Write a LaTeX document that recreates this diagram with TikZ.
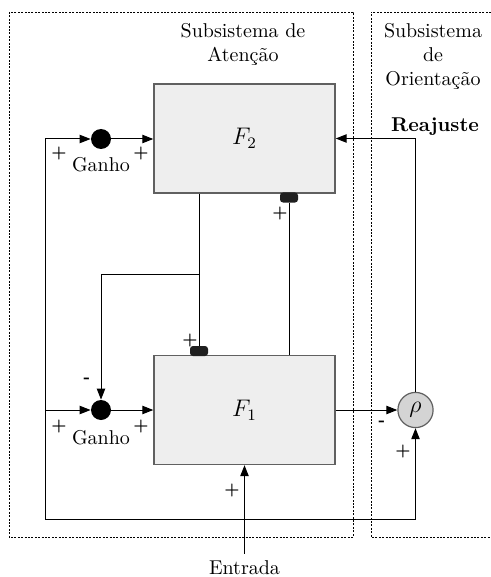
\documentclass[tikz,border=0pt]{standalone}
\usepackage{tikz}
\usetikzlibrary{arrows.meta,positioning,calc}
\definecolor{asBoxFill}{RGB}{238,238,238}
\definecolor{asBoxLine}{RGB}{ 96, 96, 96}
\definecolor{asRhoFill}{RGB}{212,212,212}

\begin{document}
\begin{tikzpicture}[x=0.5pt,y=-0.5pt,
  every node/.style={font=\normalsize},
  >={Triangle[length=5.5pt,width=4.2pt]},
  layer/.style={draw=asBoxLine,fill=asBoxFill,line width=0.7pt,
                minimum width=90.5pt,minimum height=54.5pt,inner sep=0pt,
                font=\large},
  gain/.style={circle,fill=black,minimum size=10pt,inner sep=0pt},
  vigil/.style={circle,draw=asBoxLine,fill=asRhoFill,line width=0.6pt,
                minimum size=17.6pt,inner sep=0pt,font=\large},
  tab/.style={fill=black!88,rounded corners=1.5pt,minimum width=9pt,
              minimum height=5pt,inner sep=0pt},
  sign/.style={font=\footnotesize\bfseries,inner sep=0pt},
  subsys/.style={line width=0.4pt,dash pattern=on 1pt off 0.7pt},
  wire/.style={line width=0.5pt}
]
\useasboundingbox (0,0) rectangle (491,577);

% subsystems
\draw[subsys] (9,12) rectangle (353,537);
\draw[subsys] (491,12) -- (371,12) -- (371,537) -- (491,537);
\node[align=center] (attTitle) at (243,44) {Subsistema de\\Aten\c{c}\~ao};
\node[align=center] (oriTitle) at (433,56) {Subsistema\\de\\Orienta\c{c}\~ao};
\node[font=\normalsize\bfseries] (reset) at (435,127) {Reajuste};

% layers
\node[layer] (F2) at (244.5,138.5) {$F_2$};
\node[layer] (F1) at (244.5,410) {$F_1$};
\node[tab] (tabB) at (289,197.5) {};
\node[tab] (tabA) at (199,351) {};

% gains and vigilance
\node[gain] (gTop) at (101,139) {};
\node[gain] (gBot) at (101,410) {};
\node[vigil] (rho) at (415.5,410) {$\rho$};
\node (entrada) at (244.5,568) {Entrada};
\node (ganhoTop) at (101,165) {Ganho};
\node (ganhoBot) at (101,438) {Ganho};

\coordinate (cTL) at (45,139);
\coordinate (cBL) at (45,519);
\coordinate (cBR) at (415.5,519);
\coordinate (cMid) at (199,274);

% connections
\draw[->,wire] (cBL) -- (cTL) -- (gTop);
\draw[->,wire] (gTop) -- (gTop -| F2.west);
\draw[->,wire] (cBL |- gBot) -- (gBot);
\draw[->,wire] (gBot) -- (gBot -| F1.west);
\draw[->,wire] (cBL) -- (cBR) -- (rho);
\draw[->,wire] (F1) -- (rho);
\draw[->,wire] (rho) -- (rho |- F2.east) -- (F2.east);
\draw[->,wire] (entrada) -- (F1);
\draw[wire] (tabA |- F2.south) -- (tabA);
\draw[->,wire] (cMid) -- (cMid -| gBot) -- (gBot);
\draw[wire] (tabB |- F1.north) -- (tabB);

% signs
\node[sign] (sT1) at (59,154) {+};
\node[sign] (sT2) at (141,154) {+};
\node[sign] (sB0) at (87,380) {-};
\node[sign] (sB1) at (59,426) {+};
\node[sign] (sB2) at (141,426) {+};
\node[sign] (sR1) at (382,423) {-};
\node[sign] (sR2) at (403,451) {+};
\node[sign] (sTB) at (280,213) {+};
\node[sign] (sTA) at (190,340) {+};
\node[sign] (sIn) at (232,490) {+};
\end{tikzpicture}
\end{document}
